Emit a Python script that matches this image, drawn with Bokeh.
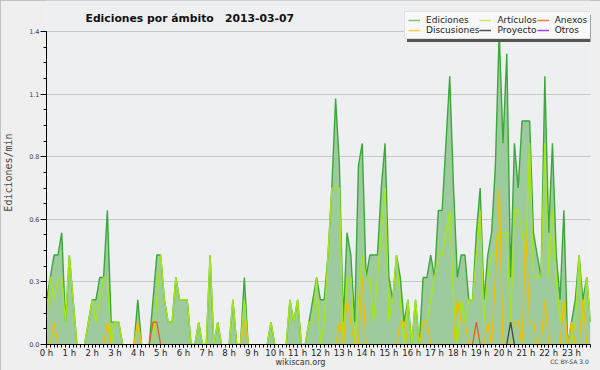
import numpy as np
from bokeh.plotting import figure
from bokeh.models import (FixedTicker, Label, Legend, LegendItem, BoxAnnotation, Range1d,
                          LinearAxis)
from bokeh.embed import file_html
from bokeh.resources import INLINE

# ---- data: edits per minute, 10-minute slots from 00:00 to 23:50 ----
slot_minutes = list(range(0, 24 * 60, 10))

ediciones = [
    0.2, 0.3, 0.4, 0.4, 0.5, 0.1, 0.4, 0.2, 0.0, 0.0, 0.0, 0.1,
    0.2, 0.2, 0.3, 0.3, 0.6, 0.1, 0.1, 0.1, 0.0, 0.0, 0.0, 0.0,
    0.2, 0.0, 0.0, 0.0, 0.2, 0.4, 0.4, 0.2, 0.1, 0.1, 0.3, 0.2,
    0.2, 0.2, 0.0, 0.0, 0.1, 0.0, 0.0, 0.4, 0.0, 0.1, 0.0, 0.0,
    0.0, 0.2, 0.0, 0.0, 0.3, 0.0, 0.0, 0.0, 0.0, 0.0, 0.0, 0.1,
    0.0, 0.0, 0.0, 0.0, 0.2, 0.1, 0.2, 0.0, 0.0, 0.1, 0.2, 0.3,
    0.2, 0.2, 0.4, 0.7, 1.1, 0.8, 0.1, 0.5, 0.4, 0.1, 0.8, 0.9,
    0.3, 0.4, 0.4, 0.4, 0.7, 0.9, 0.3, 0.2, 0.4, 0.3, 0.1, 0.2,
    0.0, 0.2, 0.0, 0.3, 0.3, 0.4, 0.3, 0.6, 0.6, 0.9, 1.2, 0.7,
    0.3, 0.4, 0.4, 0.2, 0.2, 0.5, 0.7, 0.2, 0.4, 0.5, 0.8, 1.4,
    0.9, 1.3, 0.3, 0.9, 0.7, 1.0, 1.0, 1.0, 0.5, 0.4, 0.3, 1.2,
    0.5, 0.9, 0.4, 0.2, 0.6, 0.0, 0.1, 0.2, 0.4, 0.2, 0.3, 0.1,
]

articulos = [
    0.1, 0.3, 0.2, 0.3, 0.3, 0.1, 0.4, 0.2, 0.0, 0.0, 0.0, 0.1,
    0.2, 0.1, 0.2, 0.3, 0.3, 0.0, 0.1, 0.1, 0.0, 0.0, 0.0, 0.0,
    0.1, 0.0, 0.0, 0.0, 0.0, 0.2, 0.4, 0.2, 0.1, 0.1, 0.3, 0.2,
    0.2, 0.2, 0.0, 0.0, 0.1, 0.0, 0.0, 0.4, 0.0, 0.1, 0.0, 0.0,
    0.0, 0.2, 0.0, 0.0, 0.2, 0.0, 0.0, 0.0, 0.0, 0.0, 0.0, 0.1,
    0.0, 0.0, 0.0, 0.0, 0.2, 0.1, 0.2, 0.0, 0.0, 0.1, 0.1, 0.3,
    0.0, 0.1, 0.4, 0.7, 0.7, 0.7, 0.0, 0.3, 0.3, 0.0, 0.2, 0.4,
    0.3, 0.3, 0.1, 0.3, 0.5, 0.7, 0.1, 0.2, 0.4, 0.2, 0.0, 0.2,
    0.0, 0.2, 0.0, 0.1, 0.1, 0.2, 0.3, 0.4, 0.4, 0.5, 0.6, 0.2,
    0.0, 0.2, 0.1, 0.2, 0.2, 0.4, 0.6, 0.1, 0.3, 0.4, 0.4, 0.5,
    0.5, 0.5, 0.1, 0.6, 0.6, 0.5, 0.4, 0.9, 0.3, 0.3, 0.3, 0.9,
    0.3, 0.6, 0.3, 0.1, 0.2, 0.0, 0.0, 0.1, 0.4, 0.1, 0.3, 0.1,
]

discusiones = [
    0.0, 0.0, 0.1, 0.0, 0.0, 0.0, 0.0, 0.0, 0.0, 0.0, 0.0, 0.0,
    0.0, 0.0, 0.0, 0.0, 0.1, 0.0, 0.0, 0.0, 0.0, 0.0, 0.0, 0.0,
    0.1, 0.0, 0.0, 0.0, 0.0, 0.0, 0.0, 0.0, 0.0, 0.0, 0.0, 0.0,
    0.0, 0.0, 0.0, 0.0, 0.0, 0.0, 0.0, 0.0, 0.0, 0.0, 0.0, 0.0,
    0.0, 0.0, 0.0, 0.0, 0.1, 0.0, 0.0, 0.0, 0.0, 0.0, 0.0, 0.0,
    0.0, 0.0, 0.0, 0.0, 0.0, 0.0, 0.0, 0.0, 0.0, 0.0, 0.0, 0.0,
    0.0, 0.0, 0.0, 0.0, 0.0, 0.1, 0.0, 0.2, 0.1, 0.0, 0.0, 0.3,
    0.0, 0.0, 0.0, 0.0, 0.0, 0.0, 0.0, 0.0, 0.0, 0.1, 0.1, 0.0,
    0.0, 0.0, 0.0, 0.1, 0.1, 0.0, 0.0, 0.0, 0.0, 0.0, 0.0, 0.0,
    0.2, 0.1, 0.1, 0.0, 0.0, 0.0, 0.0, 0.0, 0.1, 0.0, 0.3, 0.7,
    0.0, 0.0, 0.0, 0.1, 0.1, 0.0, 0.5, 0.1, 0.1, 0.0, 0.0, 0.2,
    0.0, 0.0, 0.0, 0.0, 0.2, 0.0, 0.1, 0.0, 0.0, 0.2, 0.0, 0.0,
]

anexos = [0.0] * 144
anexos[28] = 0.1
anexos[29] = 0.1
anexos[113] = 0.1

proyecto = [0.0] * 144
proyecto[122] = 0.1

otros = [0.0] * 144

hour_ticks = list(range(24))
hour_labels = [f"{h} h" for h in hour_ticks]
y_ticks = [0.0, 0.28, 0.56, 0.84, 1.12, 1.4]
y_tick_labels = ["0.0", "0.3", "0.6", "0.8", "1.1", "1.4"]

series_names = ["Ediciones", "Discusiones", "Artículos", "Proyecto", "Anexos", "Otros"]
legend_colors = ["#77c977", "#ffcc44", "#c8f060", "#555555", "#ff7744", "#9944ff"]

title_text = "Ediciones por ámbito\u00a0\u00a0 2013-03-07"
footer_site = "wikiscan.org"
footer_license = "CC BY-SA 3.0"

# ---- layout constants (pixels) ----
W, H = 600, 370
FRAME_L, FRAME_R, FRAME_B = 46, 10, 26
TOP_VALUE_PX = 31                            # y pixel of the 1.4 gridline
frame_h = H - FRAME_B
frame_w = W - FRAME_L - FRAME_R
y_end = 1.4 * frame_h / (frame_h - TOP_VALUE_PX)

x = np.array(slot_minutes) / 60.0
x_end = x[-1]

def px_to_x(px):
    return (px - FRAME_L) / frame_w * x_end

def visible(vals):
    v = np.array(vals, dtype=float)
    out = v.copy()
    n = len(v)
    for i in range(n):
        left = v[i - 1] if i > 0 else 0.0
        right = v[i + 1] if i < n - 1 else 0.0
        if v[i] == 0 and left == 0 and right == 0:
            out[i] = np.nan
    return out

p = figure(width=W, height=H, output_backend="svg", toolbar_location=None,
           x_range=Range1d(0, x_end), y_range=Range1d(0, y_end),
           min_border_left=FRAME_L, min_border_right=FRAME_R, min_border_top=0,
           min_border_bottom=FRAME_B)
p.background_fill_color = "#eeeff1"
p.border_fill_color = "#efefef"
p.outline_line_color = None
p.styles = {"outline": "1px solid #b4b4b4", "outline-offset": "-1px"}

p.varea(x=x, y1=0, y2=np.array(ediciones), fill_color="#9ecb9e", fill_alpha=1.0)
p.line(x, visible(ediciones), line_color="#3aa83a", line_width=1.4)
p.line(x, visible(articulos), line_color="#a6e619", line_width=1.4)
p.line(x, visible(discusiones), line_color="#f2bd00", line_width=1.3)
p.line(x, visible(anexos), line_color="#f05a1e", line_width=1.3)
p.line(x, visible(proyecto), line_color="#444444", line_width=1.3)
p.line(x, visible(otros), line_color="#9944ff", line_width=1.3)

# axes
p.xgrid.grid_line_color = None
p.ygrid.grid_line_color = "#c8c8c8"
p.ygrid.grid_line_width = 1

p.xaxis.ticker = FixedTicker(ticks=hour_ticks, minor_ticks=list(x))
p.xaxis.major_label_overrides = dict(zip(hour_ticks, hour_labels))
p.xaxis.major_tick_in = 0
p.xaxis.major_tick_out = 3
p.xaxis.minor_tick_in = 0
p.xaxis.minor_tick_out = 3
p.xaxis.major_label_standoff = 0
p.xaxis.major_label_text_font = "DejaVu Sans"
p.xaxis.major_label_text_font_size = "8.5px"
p.xaxis.major_label_text_color = "#222222"
p.xaxis.axis_line_color = "black"

y_minor = [round(k * 0.07, 2) for k in range(21)]
p.yaxis.ticker = FixedTicker(ticks=y_ticks, minor_ticks=y_minor)
p.yaxis.bounds = (0, 1.4)
p.yaxis.major_label_overrides = dict(zip(y_ticks, y_tick_labels))
p.yaxis.major_tick_in = 0
p.yaxis.major_tick_out = 6
p.yaxis.minor_tick_in = 0
p.yaxis.minor_tick_out = 3
p.yaxis.major_label_standoff = 1
p.yaxis.major_label_text_font = "DejaVu Sans"
p.yaxis.major_label_text_font_size = "6.5px"
p.yaxis.major_label_text_color = "#444444"
p.yaxis.axis_label = "Ediciones/min"
p.yaxis.axis_label_text_font = "DejaVu Sans Mono"
p.yaxis.axis_label_text_font_size = "10px"
p.yaxis.axis_label_text_font_style = "normal"
p.yaxis.axis_label_standoff = 12

# footer texts: label-only axes below the time axis
def footer_axis(text, px_center, size, standoff, color):
    t = px_to_x(px_center)
    ax = LinearAxis(ticker=FixedTicker(ticks=[t], minor_ticks=[]),
                    major_label_overrides={t: text})
    ax.axis_line_color = None
    ax.major_tick_line_color = None
    ax.minor_tick_line_color = None
    ax.major_tick_in = 0
    ax.major_tick_out = 0
    ax.major_label_standoff = standoff
    ax.major_label_text_font = "DejaVu Sans"
    ax.major_label_text_font_size = size
    ax.major_label_text_color = color
    return ax

p.add_layout(footer_axis(footer_site, 300, "8px", -3, "#333333"), "below")
p.add_layout(footer_axis(footer_license, 569, "6px", -12, "#444444"), "below")

# title (inside the frame, which reaches the top of the canvas)
p.add_layout(Label(x=85 - FRAME_L, y=frame_h - 18, x_units="screen", y_units="screen",
                   text=title_text, text_font="DejaVu Sans",
                   text_font_style="bold", text_font_size="10.8px",
                   text_baseline="alphabetic", text_align="left", text_color="#111111"))

# legend (with a shadow box behind it)
leg_left, leg_top, leg_bottom = 404, 12, 39
p.add_layout(BoxAnnotation(left=leg_left + 2.5 - FRAME_L, right=W,
                           top=frame_h - (leg_top + 2.5), bottom=frame_h - (leg_bottom + 2.5),
                           left_units="screen", right_units="screen",
                           top_units="screen", bottom_units="screen",
                           fill_color="#555555", fill_alpha=1.0, line_color=None))

items = []
for name, col in zip(series_names, legend_colors):
    r = p.line([np.nan], [np.nan], line_color=col, line_width=1.5)
    items.append(LegendItem(label=name, renderers=[r]))
legend = Legend(items=items, location=(leg_left - FRAME_L, frame_h - leg_bottom),
                orientation="vertical", nrows=2,
                label_text_font="DejaVu Sans", label_text_font_size="9px",
                label_text_color="#222222", glyph_width=12, glyph_height=10,
                label_height=10, label_standoff=6, spacing=0, padding=3, margin=0,
                background_fill_color="#f8f8f8", background_fill_alpha=1.0,
                border_line_color="#c8c8c8")
p.add_layout(legend, "center")

open("out.html", "w").write(file_html(p, INLINE))
